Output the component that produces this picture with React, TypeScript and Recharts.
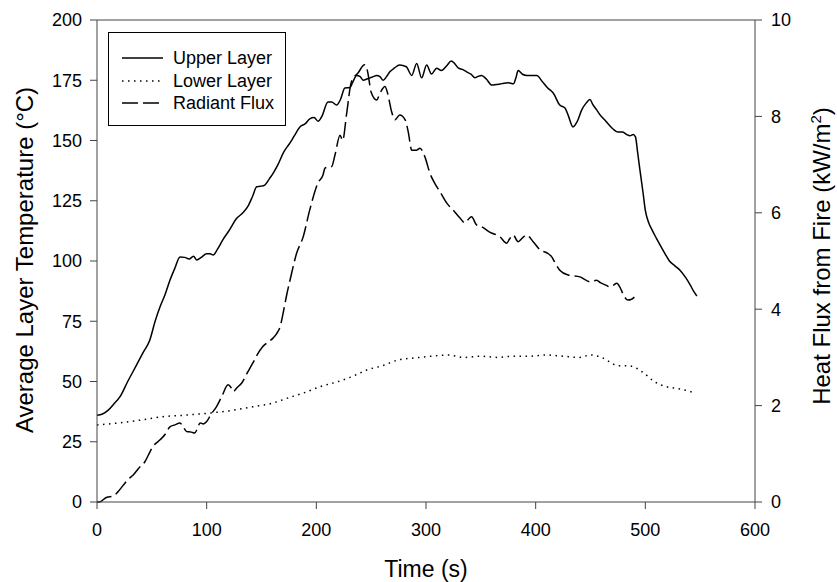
import React from 'react';
import { LineChart, Line, XAxis, YAxis, Legend, ReferenceLine } from 'recharts';

// Upper layer temperature (°C) vs time (s)
const upperTime = [0, 5, 10, 15, 21, 28, 36, 42, 48, 53, 57.5, 62, 66.5, 71, 75.7, 80, 84, 88, 91, 95, 100, 103, 106, 110, 115, 121, 127, 133, 138, 142, 145.6, 149, 153, 157, 160.7, 165, 170, 176, 180, 185, 190, 194, 198, 201.6, 205, 210.6, 214, 218.5, 222, 226, 230.7, 233, 236.8, 240, 242.8, 246, 249, 252, 255, 258, 261, 264, 267, 271, 276, 282, 287, 291.5, 296, 300.6, 305, 309.7, 314, 318.9, 323, 326, 329.6, 333, 337, 341, 344.7, 347, 350.7, 355, 360, 364, 367.5, 371, 375, 379.7, 382, 384, 388, 391.8, 396, 401, 406, 411, 416, 422, 426.7, 430, 434, 438, 442, 446, 449.5, 452, 455.6, 459, 464, 470, 475, 479, 483, 486, 489, 491, 493, 495, 498, 500, 503, 506, 510, 513, 518, 522, 527, 532, 537, 541, 544, 547];
const upperTemp = [36, 36.5, 38, 40.5, 43.7, 50, 56.8, 62, 67, 75, 81, 86, 92, 97, 101.7, 101.5, 100.8, 102, 100.4, 101.5, 103, 103, 102.5, 105, 109, 113, 117.5, 120, 123, 127, 130.8, 131, 131.5, 134, 136.5, 140, 145, 149, 152, 155.6, 157, 159, 159.5, 158, 160, 166, 166, 164.7, 167, 171.8, 172, 174, 177, 176.5, 175, 175.5, 176, 176.5, 177, 176.5, 175, 176.5, 178.5, 180, 181.3, 180.6, 177, 182, 176, 181.3, 177.6, 180, 179, 181, 183, 182, 180, 179.5, 178.5, 177.5, 176, 176.5, 177, 175.5, 173, 173.2, 173.4, 173.8, 174, 173.5, 176, 179, 177.5, 177, 177, 177, 174.5, 171.8, 169.7, 164.7, 163.5, 160, 155.6, 158, 162.7, 165.5, 167, 165, 162.7, 160.5, 158, 155, 153.5, 153.5, 152.5, 152, 152.5, 151.5, 145, 138, 128, 121, 116, 113, 109.5, 107, 103, 100, 98, 96, 93, 90, 87.5, 85.5];

// Lower layer temperature (°C) vs time (s)
const lowerTime = [0, 20, 40, 60, 80, 100, 120, 142, 160, 173, 190, 203, 220, 235, 246, 260, 275, 290, 305, 320, 335, 350, 365, 380, 395, 410, 425, 440, 450, 460, 468, 475, 485, 492, 500, 508, 518, 530, 540, 546];
const lowerTemp = [32, 32.8, 34, 35.4, 36, 36.8, 37.8, 39.5, 41, 43, 45.5, 47.8, 50, 52.5, 54.8, 56.5, 59, 59.8, 60.5, 61, 60, 60.5, 60, 60.5, 60.5, 61, 60.5, 60, 61, 60, 58, 56.5, 56.5, 55.5, 53, 50, 48, 47, 46, 45];

// Radiant heat flux (kW/m²) vs time (s)
const fluxTime = [0, 2, 9, 14.6, 19, 24, 28, 33, 38, 43.8, 47, 51, 57.5, 62, 66.5, 71, 75.7, 78, 81.8, 86, 89, 91.5, 94, 97, 100, 104, 109, 114, 119.5, 122, 124, 128, 132, 137, 142, 146, 151, 156, 160.5, 164, 167, 170, 173, 176, 182, 188, 194, 201.5, 206, 208, 214, 217, 221.6, 224, 227.7, 232, 238, 244, 246, 247, 250, 255, 258, 262.6, 265, 268.6, 271.7, 276, 281, 283.8, 287, 291.5, 294.5, 299, 303.6, 308, 312.7, 319, 324.6, 331, 335.6, 338, 341.6, 346, 350.7, 358, 367.5, 373.6, 376, 379.5, 384, 388, 391.8, 397.7, 404, 411, 414.5, 418, 422, 429.6, 440.4, 449.5, 455.6, 459, 464, 468, 471, 474, 477, 480, 484, 487, 490];
const fluxValue = [0, 0, 0.1, 0.12, 0.21, 0.35, 0.46, 0.56, 0.7, 0.84, 0.98, 1.15, 1.29, 1.4, 1.56, 1.6, 1.64, 1.58, 1.46, 1.45, 1.43, 1.52, 1.64, 1.62, 1.67, 1.82, 1.98, 2.2, 2.43, 2.38, 2.29, 2.38, 2.47, 2.68, 2.88, 3.05, 3.22, 3.32, 3.4, 3.5, 3.64, 3.95, 4.3, 4.6, 5.16, 5.5, 6.06, 6.62, 6.78, 6.93, 6.96, 7.2, 7.61, 7.5, 8.07, 8.72, 8.9, 9.07, 9.0, 8.9, 8.5, 8.34, 8.48, 8.62, 8.48, 8.1, 7.93, 8.03, 7.93, 7.68, 7.3, 7.3, 7.34, 7.16, 6.82, 6.61, 6.44, 6.2, 6.06, 5.89, 5.79, 5.85, 5.92, 5.75, 5.71, 5.6, 5.5, 5.37, 5.45, 5.54, 5.4, 5.48, 5.54, 5.4, 5.23, 5.16, 5.09, 4.95, 4.81, 4.71, 4.67, 4.57, 4.6, 4.55, 4.5, 4.46, 4.5, 4.54, 4.45, 4.3, 4.19, 4.2, 4.25];

const timeTicks = [0, 100, 200, 300, 400, 500, 600];
const tempTicks = [0, 25, 50, 75, 100, 125, 150, 175, 200];
const fluxTicks = [0, 2, 4, 6, 8, 10];

const seriesNames = ['Upper Layer', 'Lower Layer', 'Radiant Flux'];
const seriesDash = ['', '1.5 4.5', '16 5'];

const zip = (xs: number[], ys: number[]) => xs.map((t, i) => ({ t, v: ys[i] }));
const upperData = zip(upperTime, upperTemp);
const lowerData = zip(lowerTime, lowerTemp);
const fluxData = zip(fluxTime, fluxValue);

const font = '"Liberation Sans", Arial, sans-serif';
const axisColor = '#444';
const tickStyle = { fontSize: 18, fill: '#000', fontFamily: font };

function LegendBox() {
  return (
    <div
      style={{
        width: 178,
        height: 94,
        border: '1px solid #000',
        background: '#fff',
        fontFamily: font,
        fontSize: 18,
        color: '#000',
        paddingTop: 14,
        boxSizing: 'border-box',
      }}
    >
      {seriesNames.map((name, i) => (
        <div key={name} style={{ display: 'flex', alignItems: 'center', height: 22.5, paddingLeft: 13 }}>
          <svg width={41} height={10} style={{ marginRight: 10 }}>
            <line x1={0} y1={5} x2={41} y2={5} stroke="#000" strokeWidth={1.5} strokeDasharray={seriesDash[i]} />
          </svg>
          <span style={{ lineHeight: '22px' }}>{name}</span>
        </div>
      ))}
    </div>
  );
}

const LeftTitle = () => (
  <text transform="translate(33,260) rotate(-90)" textAnchor="middle" fontSize={24} fontFamily={font} fill="#000">
    Average Layer Temperature (°C)
  </text>
);

const RightTitle = () => (
  <text transform="translate(830,256) rotate(-90)" textAnchor="middle" fontSize={24} fontFamily={font} fill="#000">
    Heat Flux from Fire (kW/m
    <tspan dy={-9} fontSize={15}>2</tspan>
    <tspan dy={9}>)</tspan>
  </text>
);

const BottomTitle = () => (
  <text x={426} y={577} textAnchor="middle" fontSize={23} fontFamily={font} fill="#000">
    Time (s)
  </text>
);

export default function App() {
  return (
    <div style={{ position: 'absolute', left: 0, top: 0, background: '#fff' }}>
      <LineChart width={837} height={582} margin={{ top: 20, right: 22, left: 37, bottom: 30 }}>
        <XAxis
          dataKey="t"
          type="number"
          domain={[0, 600]}
          ticks={timeTicks}
          allowDataOverflow
          height={50}
          tick={tickStyle}
          tickSize={7}
          tickMargin={14}
          stroke={axisColor}
          label={{ content: BottomTitle }}
        />
        <YAxis
          yAxisId="temp"
          domain={[0, 200]}
          ticks={tempTicks}
          width={60}
          tick={tickStyle}
          tickSize={7}
          tickMargin={8}
          stroke={axisColor}
          label={{ content: LeftTitle }}
        />
        <YAxis
          yAxisId="flux"
          orientation="right"
          domain={[0, 10]}
          ticks={fluxTicks}
          width={60}
          tick={tickStyle}
          tickSize={7}
          tickMargin={9}
          stroke={axisColor}
          label={{ content: RightTitle }}
        />
        <ReferenceLine yAxisId="temp" y={200} stroke={axisColor} />
        <Line yAxisId="temp" data={upperData} dataKey="v" type="monotone" stroke="#000" strokeWidth={1.5} dot={false} isAnimationActive={false} name={seriesNames[0]} />
        <Line yAxisId="temp" data={lowerData} dataKey="v" type="monotone" stroke="#000" strokeWidth={1.5} strokeDasharray={seriesDash[1]} dot={false} isAnimationActive={false} name={seriesNames[1]} />
        <Line yAxisId="flux" data={fluxData} dataKey="v" type="monotone" stroke="#000" strokeWidth={1.5} strokeDasharray={seriesDash[2]} dot={false} isAnimationActive={false} name={seriesNames[2]} />
        <Legend
          layout="vertical"
          align="center"
          verticalAlign="middle"
          content={LegendBox}
          wrapperStyle={{ left: 108, top: 32, width: 178, height: 94 }}
        />
      </LineChart>
    </div>
  );
}
